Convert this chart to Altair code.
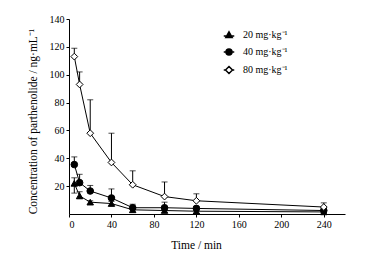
import altair as alt
import pandas as pd

time = [5, 10, 20, 40, 60, 90, 120, 240]
doses = ["20 mg·kg⁻¹", "40 mg·kg⁻¹", "80 mg·kg⁻¹"]

mean_20 = [22, 13, 8.5, 7.5, 3, 2.5, 2, 1.5]
low_20 = [15, 11, 8.5, 7.5, 3, 2.5, 2, 1.5]
high_20 = [26, 16, 9.5, 9, 4, 3.5, 3, 2.5]

mean_40 = [35.5, 22.5, 16.5, 11.5, 4.5, 4.5, 4, 2.5]
low_40 = [35.5, 22.5, 16.5, 11.5, 4.5, 4.5, 4, 2.5]
high_40 = [41, 28.5, 20.5, 18, 7, 8.5, 5.5, 3.5]

mean_80 = [113, 93, 58, 37, 21, 12.5, 9.5, 5]
low_80 = [113, 93, 58, 37, 21, 12.5, 9.5, 5]
high_80 = [119, 102, 82, 58, 31, 23, 14.5, 8]

x_ticks = [0, 40, 80, 120, 160, 200, 240]
y_ticks = [20, 40, 60, 80, 100, 120, 140]

rows = []
for d, m, lo, hi in zip(doses, [mean_20, mean_40, mean_80],
                        [low_20, low_40, low_80], [high_20, high_40, high_80]):
    for t, a, b, c in zip(time, m, lo, hi):
        rows.append({"time": t, "dose": d, "mean": a, "low": b, "high": c})
df = pd.DataFrame(rows)

FONT = "Liberation Serif"

x_axis = alt.Axis(values=x_ticks, title="Time / min",
                  titleX=127, titleY=34, titleBaseline="alphabetic",
                  titleAnchor=None, titleAlign="center", titleFontWeight="normal",
                  labelOverlap=False)
y_axis = alt.Axis(values=y_ticks,
                  title="Concentration of parthenolide / ng·mL⁻¹",
                  titleX=-36, titleY=102, titleBaseline="middle",
                  titleAlign="center", titleAngle=-90, titleFontWeight="normal",
                  labelOverlap=False)
xs = alt.Scale(domain=[0, 260], nice=False)
ys = alt.Scale(domain=[0, 140], nice=False)

def X(f):
    return alt.X(f, scale=xs, axis=x_axis)

def Y(f):
    return alt.Y(f, scale=ys, axis=y_axis)

base = alt.Chart(df)

lines = base.mark_line(color="black", strokeWidth=1).encode(
    x=X("time:Q"), y=Y("mean:Q"), detail="dose:N", order="time:Q")

bars = base.mark_rule(color="black", strokeWidth=1).encode(
    x=X("time:Q"), y=Y("low:Q"), y2="high:Q")

caps_hi = base.mark_tick(color="black", orient="horizontal", size=6, thickness=1).encode(
    x=X("time:Q"), y=Y("high:Q"))
caps_lo = base.transform_filter("datum.low < datum.mean").mark_tick(
    color="black", orient="horizontal", size=6, thickness=1).encode(
    x=X("time:Q"), y=Y("low:Q"))

points = base.mark_point(filled=True, stroke="black", opacity=1).encode(
    x=X("time:Q"), y=Y("mean:Q"),
    shape=alt.Shape("dose:N", scale=alt.Scale(domain=doses, range=["triangle-up", "circle", "diamond"]), legend=None),
    fill=alt.Fill("dose:N", scale=alt.Scale(domain=doses, range=["black", "black", "white"]), legend=None),
    size=alt.Size("dose:N", scale=alt.Scale(domain=doses, range=[42, 46, 85]), legend=None),
    strokeWidth=alt.StrokeWidth("dose:N", scale=alt.Scale(domain=doses, range=[1, 1, 2.2]), legend=None),
)

line_seg = "M-1.5,0H-0.8M0.8,0H1.5"
legend_paths = [
    "M-1.5,0.3H1.5M0,-0.9L0.9,0.7L-0.9,0.7Z",
    line_seg + "M-0.85,0A0.85,0.85 0 1,0 0.85,0A0.85,0.85 0 1,0 -0.85,0Z",
    line_seg + "M0,-1L1,0L0,1L-1,0Z",
]

leg = alt.Legend(title=None, orient="none", legendX=155, legendY=11, padding=0,
                 labelFont=FONT, labelFontSize=10, labelColor="black",
                 symbolSize=49, symbolStrokeWidth=1.5, symbolOpacity=1,
                 rowPadding=5, labelOffset=9)

legend_layer = base.transform_filter("false").mark_point(filled=True, opacity=1).encode(
    x=X("time:Q"), y=Y("mean:Q"),
    shape=alt.Shape("dose:N", scale=alt.Scale(domain=doses, range=legend_paths), legend=leg),
    fill=alt.Fill("dose:N", scale=alt.Scale(domain=doses, range=["black", "black", "white"]), legend=leg),
    stroke=alt.Stroke("dose:N", scale=alt.Scale(domain=doses, range=["black", "black", "black"]), legend=leg),
)

chart = alt.layer(lines, bars, caps_hi, caps_lo, points, legend_layer).resolve_scale(
    shape="independent", fill="independent", stroke="independent"
).properties(
    width=276, height=195,
    padding={"left": 69, "top": 19, "right": 34, "bottom": 40},
    autosize="none",
    background="white",
).configure_view(stroke=None).configure_axis(
    grid=False, domainColor="black", tickColor="black", tickSize=3,
    labelFont=FONT, labelFontSize=10, labelColor="black", labelPadding=2,
    labelOverlap=False,
    titleFont=FONT, titleFontSize=11.5, titleFontWeight="normal", titleColor="black",
    domainWidth=1, tickWidth=1,
)

chart.save("out.html", embed_options={"renderer": "svg", "actions": False})
